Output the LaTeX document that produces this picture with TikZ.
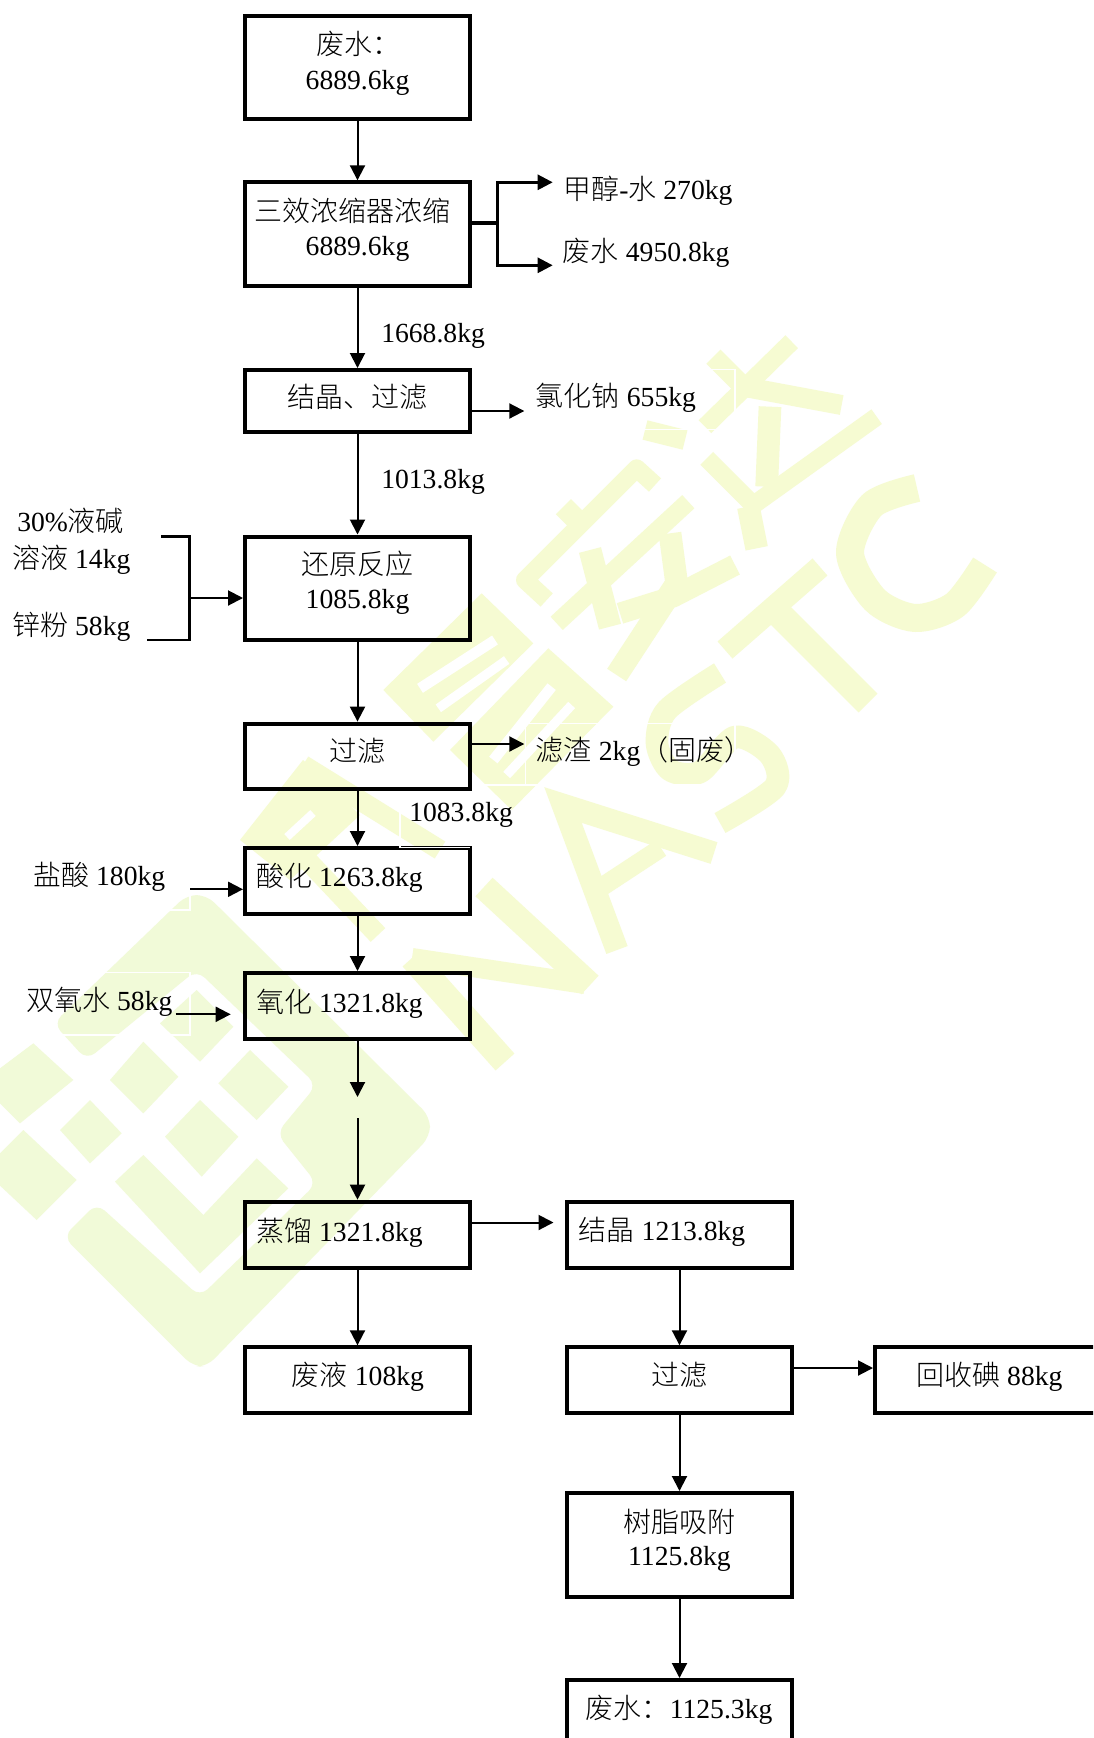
\documentclass[tikz,border=0pt]{standalone}
\usepackage{fontspec}
\setmainfont[Scale=0.987]{Liberation Serif}
\newfontfamily\cjk{Noto Sans CJK SC Light}
\usetikzlibrary{arrows.meta}
\newcommand{\zh}[1]{{\cjk #1}}
\definecolor{wmyellow}{HTML}{F6FBD2}
\definecolor{wmgreen}{HTML}{F1FAD8}
\tikzset{
  box/.style={draw=black,line width=3pt,rectangle,inner sep=0pt},
  txt/.style={inner sep=0pt,font=\fontsize{21}{25}\selectfont,text=black},
  ltxt/.style={txt,anchor=base west},
  ctxt/.style={txt,anchor=base},
  arr/.style={draw=black,line width=1.5pt,-{Triangle[length=11.25pt,width=11.25pt]}},
  ln/.style={draw=black,line width=1.5pt},
  wstroke/.style={draw=wmyellow,line join=round,line width=13.5pt},
  ghost/.style={draw=white,line width=0.8pt},
}
\newcommand{\bx}[5]{\node[box,minimum width={(#4-#2)*0.75pt},minimum height={(#5-#3)*0.75pt}] (#1) at ({(#2+#4)/2},{(#3+#5)/2}) {};}
\begin{document}
\begin{tikzpicture}[x=0.75pt,y=-0.75pt]
\useasboundingbox (0,0) rectangle (1093,1738);
\clip (0,0) rectangle (1093,1738);
\fill[white] (0,0) rectangle (1093,1738);
% ---- watermark: logo
\begin{scope}[shift={(0,800)},x=0.25pt,y=-0.25pt]
 \fill[wmgreen,rounded corners=8pt] (160,670)--(560,285)--(620,285)--(1290,950)--(1290,1010)--(620,1700)--(580,1700)--(190,1310)--(290,1210)--(600,1490)--(950,1150)--(830,1000)--(950,855)--(590,510)--(260,780)--cycle;
 \fill[wmgreen] (590,570)--(700,680)--(600,785)--(480,670)--cycle;
 \fill[wmgreen] (430,725)--(535,830)--(430,940)--(330,840)--cycle;
 \fill[wmgreen] (750,750)--(865,860)--(770,960)--(655,850)--cycle;
 \fill[wmgreen] (100,730)--(220,840)--(60,970)--(-60,850)--cycle;
 \fill[wmgreen] (270,900)--(365,1000)--(270,1090)--(180,990)--cycle;
 \fill[wmgreen] (600,900)--(715,1010)--(605,1130)--(495,1010)--cycle;
 \fill[wmgreen] (70,990)--(230,1140)--(110,1260)--(-50,1110)--cycle;
 \fill[wmgreen] (430,1065)--(610,1245)--(770,1075)--(865,1165)--(600,1420)--(345,1145)--cycle;
\end{scope}
% ---- watermark: characters and letters
\begin{scope}[shift={(330,330)},x=0.25pt,y=-0.25pt]
 % first character
 \fill[wmyellow] (455,790)--(610,940)--(310,1235)--(160,1080)--cycle;
 \draw[draw=white,line width=8pt] (270,1075)--(495,930);
 \draw[draw=white,line width=7pt] (325,1135)--(530,990);
 \fill[wmyellow] (655,955)--(850,1130)--(545,1440)--(360,1260)--cycle;
 \draw[draw=white,line width=8pt] (490,1290)--(665,1070);
 \draw[draw=white,line width=7pt] (530,1335)--(725,1125);
 % second character
 \draw[wstroke] (975,465)--(920,415)--(585,750)--(650,810);
 \draw[wstroke,line width=16pt] (700,530)--(770,600);
 \draw[wstroke] (1075,515)--(680,880);
 \draw[wstroke,line width=17pt] (780,660)--(840,890);
 \draw[wstroke,line width=17pt] (1020,610)--(1040,760)--(860,1035);
 \draw[wstroke,line width=16pt] (1215,705)--(1030,800)--(870,850);
 % third character
 \draw[wstroke] (1385,35)--(1125,290);
 \draw[wstroke,line width=15pt] (1150,80)--(1240,170)--(1535,225);
 \draw[wstroke,line width=17pt] (1320,230)--(1310,470);
 \draw[wstroke] (1130,385)--(1270,525)--(1640,260);
 \draw[wstroke,line width=17pt] (1255,530)--(1280,655);
 \draw[wstroke,line width=15pt] (945,300)--(1065,330);
\end{scope}
% lower part of the first character
\fill[wmyellow] (303,760)--(360,815)--(290,880)--(240,840)--cycle;
\draw[draw=white,line width=6pt] (287,837)--(313,813);
\draw[wstroke,line width=15pt] (303,765)--(440,850);
\draw[wstroke,line width=15pt] (309,862)--(378,935);
% letters N A S T C
\draw[wstroke,line width=19pt] (412,958)--(505,1062);
\draw[wstroke,line width=15pt] (412,958)--(585,984);
\draw[wstroke,line width=19pt] (484,887)--(590,985);
\draw[wstroke,line width=17pt,line join=miter] (714,853)--(563,805)--(617,950);
\draw[wstroke,line width=14pt] (594,892)--(661,848);
\draw[wstroke,line width=17pt] plot[smooth] coordinates {(720,673)(667,710)(657,743)(670,770)(700,772)(735,737)(770,755)(775,787)(720,823)};
\draw[wstroke,line width=17pt] (725,650)--(820,567);
\draw[wstroke,line width=20pt] (775,610)--(868,703);
\draw[wstroke,line width=21pt] plot[smooth] coordinates {(917,488)(872,505)(850,553)(875,600)(915,618)(955,605)(985,565)};
% ---- boxes
\bx{a}{245}{15.7}{470}{119.3}
\bx{b}{245}{182.3}{470}{286}
\bx{c}{245}{370}{470}{432}
\bx{d}{245}{536.5}{470}{639.6}
\bx{e}{245}{723.6}{470}{788.6}
\bx{f}{245}{848}{470}{913.6}
\bx{g}{245}{973}{470}{1038.7}
\bx{h}{245}{1201.7}{470}{1267.7}
\bx{i}{245}{1347.3}{470}{1413}
\bx{j}{567}{1201.7}{792}{1267.5}
\bx{k}{567}{1347.3}{792}{1413}
\bx{l}{875}{1347.3}{1115}{1413}
\bx{m}{567}{1493}{792}{1597}
\bx{n}{567}{1680}{792}{1760}
% ---- faint outlines of the text frames
\draw[ghost] (400,791)--(400,847.8)--(470,847.8);
\draw[ghost] (525.5,723.3) rectangle (735,785);
\draw[ghost] (472,785)--(525.5,785);
\draw[ghost] (525,369.3) rectangle (735,429.3);
\draw[ghost] (24,850) rectangle (190,910);
\draw[ghost] (20,972.7) rectangle (190,1035);
% ---- labels
\node[ltxt] (ta) at (316,54.5) {\zh{废水：}};
\node[ctxt] (ta2) at (357.5,89.5) {6889.6kg};
\node[ltxt] (tb) at (254.5,221) {\zh{三效浓缩器浓缩}};
\node[ctxt] (tb2) at (357.5,255) {6889.6kg};
\node[ltxt] (t1) at (381,342.5) {1668.8kg};
\node[ctxt] (tc) at (357.5,407.3) {\zh{结晶、过滤}};
\node[ltxt] (t2) at (381,488.5) {1013.8kg};
\node[ctxt] (td) at (357.5,574.6) {\zh{还原反应}};
\node[ctxt] (td2) at (357.5,608.5) {1085.8kg};
\node[ctxt] (te) at (357.5,761.6) {\zh{过滤}};
\node[ltxt] (t3) at (409,821.5) {1083.8kg};
\node[ltxt] (tf) at (256,886) {\zh{酸化} 1263.8kg};
\node[ltxt] (tg) at (256,1012) {\zh{氧化} 1321.8kg};
\node[ltxt] (th) at (256,1241) {\zh{蒸馏} 1321.8kg};
\node[ltxt] (ti) at (291.7,1385.5) {\zh{废液} 108kg};
\node[ltxt] (tj) at (578.5,1240.5) {\zh{结晶} 1213.8kg};
\node[ctxt] (tk) at (679.5,1385.6) {\zh{过滤}};
\node[ltxt] (tl) at (916,1385.2) {\zh{回收碘} 88kg};
\node[ctxt] (tm) at (679.5,1532) {\zh{树脂吸附}};
\node[ctxt] (tm2) at (679.5,1565.6) {1125.8kg};
\node[ltxt] (tn) at (585.5,1718.7) {\zh{废水：}1125.3kg};
\node[ltxt] (s1) at (563,199.5) {\zh{甲醇}-\zh{水} 270kg};
\node[ltxt] (s2) at (562.7,261.5) {\zh{废水} 4950.8kg};
\node[ltxt] (s3) at (535.7,406) {\zh{氯化钠} 655kg};
\node[ltxt] (s4) at (535.7,760) {\zh{滤渣} 2kg\zh{（固废）}};
\node[ltxt] (w1) at (17,531) {30\%\zh{液碱}};
\node[ltxt] (w2) at (12,568.5) {\zh{溶液} 14kg};
\node[ltxt] (w3) at (12,635) {\zh{锌粉} 58kg};
\node[ltxt] (w4) at (33,885.5) {\zh{盐酸} 180kg};
\node[ltxt] (w5) at (26,1010.5) {\zh{双氧水} 58kg};
% ---- main connectors
\draw[arr] (a.south)--(b.north);
\draw[arr] (b.south)--(c.north);
\draw[arr] (c.south)--(d.north);
\draw[arr] (d.south)--(e.north);
\draw[arr] (e.south)--(f.north);
\draw[arr] (f.south)--(g.north);
\coordinate (gap1) at (357.5,1097);
\coordinate (gap2) at (357.5,1118);
\draw[arr] (g.south)--(gap1);
\draw[arr] (gap2)--(h.north);
\draw[arr] (h.south)--(i.north);
\draw[arr] (j.south)--(k.north);
\draw[arr] (k.south)--(m.north);
\draw[arr] (m.south)--(n.north);
\coordinate (hj) at (553.5,1222.5);
\draw[arr] (h.east |- hj)--(hj);
\coordinate (kl) at (0,1368);
\draw[arr] (k.east |- kl)--(l.west |- kl);
% ---- branch at the evaporator
\coordinate (bj) at (497.7,223);
\coordinate (b1) at (552.7,182.3);
\coordinate (b2) at (552.7,265.3);
\draw[ln,line width=2.6pt] (b.east |- bj)--(bj);
\draw[arr,line width=2pt,line join=miter] (bj)--(bj |- b1)--(b1);
\draw[arr,line width=2pt,line join=miter] (bj)--(bj |- b2)--(b2);
% ---- side outputs
\coordinate (c1) at (524.3,411);
\draw[arr] (c.east |- c1)--(c1);
\coordinate (e1) at (524.3,744);
\draw[arr] (e.east |- e1)--(e1);
% ---- inputs
\coordinate (q1) at (161.4,536.4);
\coordinate (q2) at (147,640);
\coordinate (q3) at (189.3,598);
\draw[draw=black,line width=2.2pt,line join=miter] (q1)--(q3 |- q1)--(q3 |- q2)--(q2);
\draw[arr] (q3)--(d.west |- q3);
\coordinate (f0) at (190,889.3);
\draw[arr] (f0)--(f.west |- f0);
\coordinate (g0) at (175.7,1014.3);
\coordinate (g1) at (230.7,1014.3);
\draw[arr] (g0)--(g1);
\end{tikzpicture}
\end{document}
